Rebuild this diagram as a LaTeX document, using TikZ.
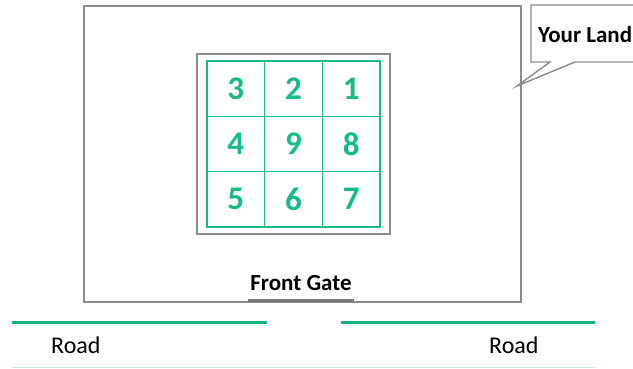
\documentclass[tikz,border=0pt]{standalone}
\usepackage{fontspec}
\setmainfont{Carlito}
\definecolor{gridgreen}{RGB}{20,188,138}
\definecolor{roadgreen}{RGB}{20,180,130}
\definecolor{lightgreen}{RGB}{190,235,220}
\definecolor{framegray}{RGB}{140,140,140}
\definecolor{gategray}{RGB}{120,120,120}
\begin{document}
\begin{tikzpicture}[x=1pt,y=-1pt,
  frame/.style={draw=framegray,line width=1.4pt},
  cell/.style={draw=gridgreen,line width=1.4pt,minimum width=57.7pt,minimum height=55.3pt,inner sep=0pt,
    text=gridgreen,font=\fontsize{33}{33}\selectfont\bfseries},
  lbl/.style={inner sep=0pt,font=\fontsize{23}{23}\selectfont\bfseries},
  roadtxt/.style={inner sep=0pt,font=\fontsize{24}{24}\selectfont},
  road/.style={draw=roadgreen,line width=3pt}]
\useasboundingbox (0,0) rectangle (633,368);
% land
\draw[frame] (84,6) rectangle (521,302);
% inner square
\draw[frame] (197,54) rectangle (390,234);
% grid cells
\foreach \n/\c/\r in {3/0/0,2/1/0,1/2/0,4/0/1,9/1/1,8/2/1,5/0/2,6/1/2,7/2/2}{
  \node[cell] (c\n) at ({207+28.85+57.7*\c},{61+27.65+55.3*\r}) {\n};
}
% callout
\coordinate (tip) at (517,86);
\draw[frame,fill=white] (633,5) -- (531,5) -- (531,62) -- (550,62) -- (tip) -- (575,62) -- (633,62);
\node[lbl,anchor=west] (your) at (538,35) {Your Land};
% front gate
\node[lbl] (gate) at (301,283) {Front Gate};
\draw[draw=gategray,line width=3pt] (248,300) -- (354,300);
% roads
\draw[road] (12,322) -- (267,322);
\draw[road] (341,322) -- (595,322);
\draw[draw=lightgreen,line width=1pt] (12,367) -- (595,367);
\node[roadtxt,anchor=west] (road1) at (51,345) {Road};
\node[roadtxt,anchor=west] (road2) at (489,345) {Road};
\end{tikzpicture}
\end{document}
